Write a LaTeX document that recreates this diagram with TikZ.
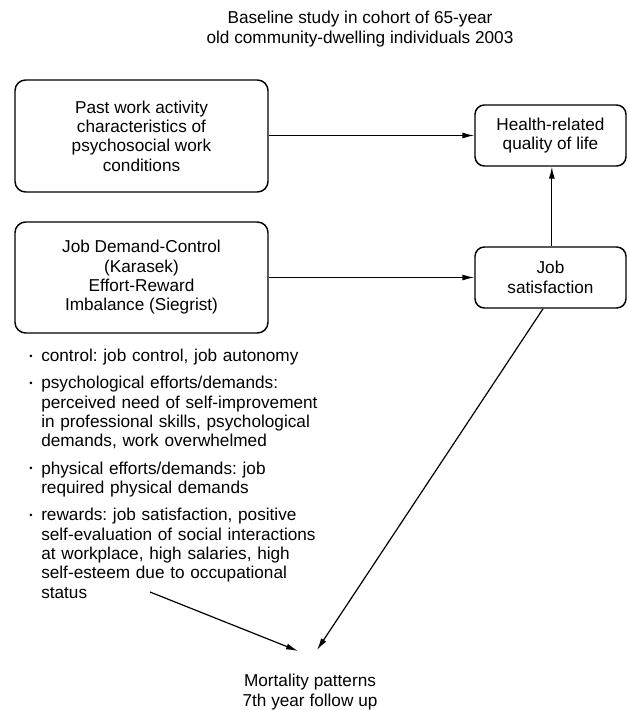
\documentclass[tikz,border=0pt]{standalone}
\usepackage{fontspec}
\setmainfont{Liberation Sans}
\usetikzlibrary{arrows.meta}

\newcommand{\bitem}{\par\hangindent=9pt\hangafter=1\noindent\makebox[9pt][l]{\raisebox{0.15em}{\scriptsize\textbullet}}}

\tikzset{
  txt/.style={inner sep=0pt, align=center, font=\fontsize{12.9}{14.5}\selectfont},
  box/.style={txt, draw, line width=1.1pt, rounded corners=8pt},
  bigbox/.style={box, minimum width=189.75pt},
  smallbox/.style={box, minimum width=113.25pt, minimum height=45.75pt, rounded corners=7pt},
  link/.style={line width=0.9pt, -{Latex[length=9pt,width=4.5pt]}}
}

\begin{document}
\frenchspacing
\begin{tikzpicture}[x=0.75pt, y=-0.75pt]
  \useasboundingbox (0,0) rectangle (628,710);

  % heading
  \node[txt] (title) at (360,29) {Baseline study in cohort of 65-year\\old community-dwelling individuals 2003};

  % left boxes
  \node[bigbox, minimum height=84pt] (past) at (141.5,136) {Past work activity\\characteristics of\\psychosocial work\\conditions};
  \node[bigbox, minimum height=83.25pt] (jdc) at (141.5,277.5) {Job Demand-Control\\(Karasek)\\Effort-Reward\\Imbalance (Siegrist)};

  % right boxes
  \node[smallbox] (hrql) at (550.5,135.5) {Health-related\\quality of life};
  \node[smallbox] (jobsat) at (550.5,277.5) {Job\\satisfaction};

  % list of dimensions
  \node[txt, anchor=north west, align=left, text width=230pt] (items) at (29,334) {%
    \parskip=6pt
    \bitem control: job control, job autonomy
    \bitem psychological efforts/demands:\newline perceived need of self-improvement\newline in professional skills, psychological\newline demands, work overwhelmed
    \bitem physical efforts/demands: job\newline required physical demands
    \bitem rewards: job satisfaction, positive\newline self-evaluation of social interactions\newline at workplace, high salaries, high\newline self-esteem due to occupational\newline status\par};

  % outcome
  \node[txt] (mort) at (310,692) {Mortality patterns\\7th year follow up};
  \coordinate (lend) at (150,592);
  \coordinate (m1) at (298,651);
  \coordinate (m2) at (317,650);

  \draw[link] (past.east |- hrql) -- (hrql.west);
  \draw[link] (jdc) -- (jobsat);
  \draw[link] ([xshift=1pt]jobsat.north) -- ([xshift=1pt]hrql.south);
  \draw[link] ([xshift=-5.6pt]jobsat.south) -- (m2);
  \draw[link] (lend) -- (m1);
\end{tikzpicture}
\end{document}
